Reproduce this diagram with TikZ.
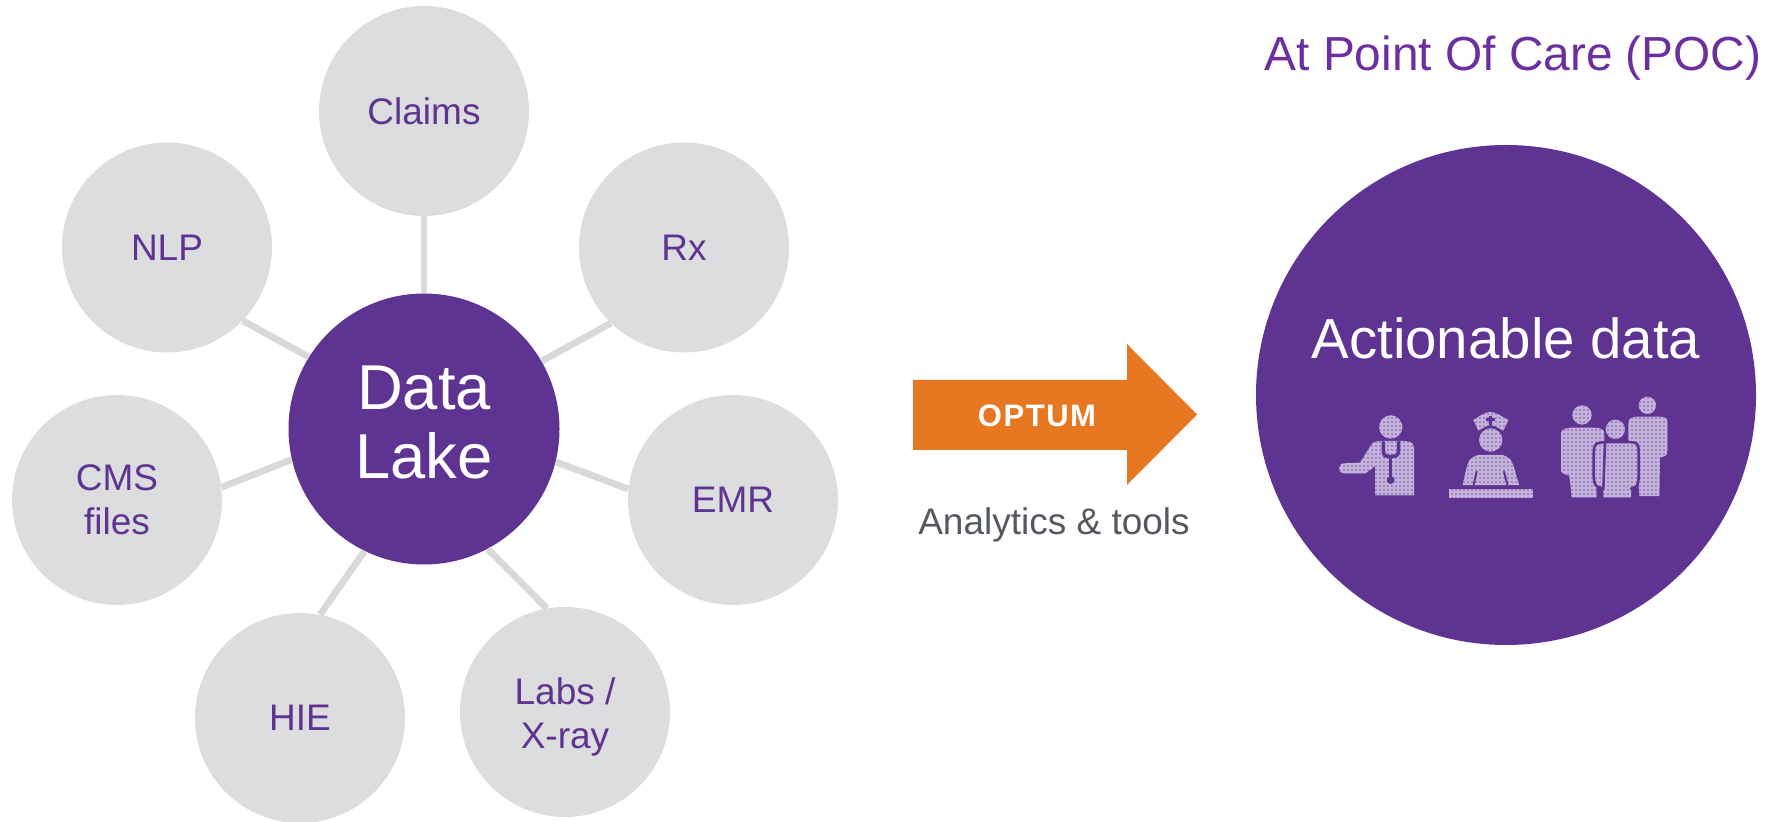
\documentclass[tikz,border=0pt]{standalone}
\usepackage{fontspec}
\setmainfont{Liberation Sans}
\usetikzlibrary{patterns.meta}
\definecolor{lakepurple}{HTML}{5E3391}
\definecolor{titlepurple}{HTML}{6B2FA0}
\definecolor{bubblegray}{HTML}{DCDDDF}
\definecolor{linkgray}{HTML}{D9D9D9}
\definecolor{arroworange}{HTML}{E87722}
\definecolor{captiongray}{HTML}{54585F}
\definecolor{iconlight}{HTML}{C4B4DC}
\tikzset{
  bubble/.style={circle,fill=bubblegray,draw=none,minimum size=105pt,inner sep=0pt,text=lakepurple,align=center,font=\fontsize{18.5}{22}\selectfont},
  hub/.style={circle,fill=lakepurple,draw=none,minimum size=135.5pt,inner sep=0pt,text=white,align=center,font=\fontsize{31.7}{34.5}\selectfont},
  bigdisc/.style={circle,fill=lakepurple,draw=none,minimum size=250pt,inner sep=0pt},
  link/.style={draw=linkgray,line width=3.4pt},
  icon/.style={fill=iconlight,postaction={pattern={Dots[distance=2pt,radius=0.42pt]},pattern color=lakepurple!75!iconlight}},
  cut/.style={draw=lakepurple,line width=1.3pt,fill=none,line cap=round,line join=round}
}
\newcommand{\twolines}[3]{\vbox{\kern#1\hbox{\begin{tabular}{@{}c@{}}#2\\[0pt]#3\end{tabular}}}}
\begin{document}
\begin{tikzpicture}[x=0.5pt,y=-0.5pt]
\useasboundingbox (0,0) rectangle (1782,822);
% nodes
\node[hub] (lake) at (424,429) {\twolines{1.7pt}{Data}{Lake}};
\node[bubble] (claims) at (424,111) {Claims};
\node[bubble] (rx) at (684,247.5) {Rx};
\node[bubble] (nlp) at (167,247.5) {NLP};
\node[bubble] (emr) at (733,500) {EMR};
\node[bubble] (cms) at (117,500) {\twolines{3.4pt}{CMS}{files}};
\node[bubble] (hie) at (300,718) {HIE};
\node[bubble] (labs) at (565,712) {\twolines{5.7pt}{Labs /}{X-ray}};
% connectors
\draw[link] (claims.south) -- (lake.north);
\draw[link] (nlp.316) -- (lake.148.9);
\draw[link] (rx.226) -- (lake.30);
\draw[link] (cms.7.7) -- (lake.193.6);
\draw[link] (emr.174.6) -- (lake.346.9);
\draw[link] (hie.79.6) -- (lake.244.6);
\draw[link] (labs.100.3) -- (lake.298.2);
% arrow
\fill[arroworange] (913,380) -- (1127,380) -- (1127,344) -- (1197,414.5) -- (1127,485) -- (1127,450) -- (913,450) -- cycle;
\node[text=white,inner sep=0pt,font=\fontsize{15.5}{18}\selectfont\bfseries\addfontfeature{LetterSpace=5}] (optum) at (1037,416) {OPTUM};
\node[text=captiongray,inner sep=0pt,anchor=base,font=\fontsize{18.5}{22}\selectfont] (caption) at (1054,535) {Analytics \& tools};
% right side
\node[text=titlepurple,inner sep=0pt,font=\fontsize{23.9}{28}\selectfont] (title) at (1513,58) {At Point Of Care (POC)};
\node[bigdisc] (disc) at (1506,395) {};
\node[text=white,inner sep=0pt,font=\fontsize{28.2}{32}\selectfont] (action) at (1506,338) {Actionable data};
% icons
\begin{scope}[shift={(1300,380)},x=0.16667pt,y=-0.16667pt]
  % doctor
  \fill[icon] (272,141) circle (35);
  \fill[icon] (132,250) -- (180,248) -- (212,197) .. controls (222,185) .. (245,183) -- (312,183) .. controls (342,187) .. (342,222) -- (342,346) -- (225,346) -- (225,258) -- (197,280) -- (132,280) .. controls (112,278) and (112,252) .. (132,250) -- cycle;
  \draw[cut,line width=1.8pt] (250,187) -- (250,212) .. controls (252,228) .. (272,230) .. controls (292,228) .. (296,212) -- (296,187);
  \draw[cut,line width=1.8pt] (272,230) -- (272,300);
  \fill[lakepurple] (272,300) circle (12);
  % nurse
  \fill[icon] (520,120) .. controls (570,88) .. (625,120) -- (610,152) .. controls (572,130) .. (535,152) -- cycle;
  \draw[cut,line width=1.5pt,line cap=butt] (570,107) -- (570,135) (557,120) -- (584,120);
  \fill[icon] (572,180) circle (35);
  \fill[icon] (535,225) -- (608,225) .. controls (635,235) .. (657,315) -- (488,315) .. controls (505,235) .. (535,225) -- cycle;
  \draw[cut,line width=1pt] (530,275) -- (521,314) (612,275) -- (622,314);
  \fill[icon] (447,327) rectangle (698,353);
  % family
  \fill[icon] (846,105) circle (29);
  \fill[icon] (812,143) -- (880,143) .. controls (913,145) .. (913,185) -- (885,240) -- (890,352) -- (815,352) -- (808,287) .. controls (783,280) .. (783,262) -- (783,172) .. controls (783,148) .. (812,143) -- cycle;
  \fill[icon] (1042,76) circle (26);
  \fill[icon] (1010,110) -- (1078,110) .. controls (1102,112) .. (1102,138) -- (1102,210) .. controls (1100,228) .. (1080,232) -- (1078,348) -- (1018,348) -- (1010,240) -- (985,200) -- (985,135) .. controls (987,114) .. (1010,110) -- cycle;
  \fill[icon] (946,148) circle (29);
  \fill[icon] (915,186) -- (985,186) .. controls (1015,188) .. (1016,220) -- (1016,290) .. controls (1014,318) .. (993,326) -- (993,352) -- (910,352) -- (910,326) .. controls (884,318) .. (881,290) -- (881,220) .. controls (883,190) .. (915,186) -- cycle;
  \draw[cut] (915,186) -- (985,186) .. controls (1015,188) .. (1016,220) -- (1016,290) .. controls (1014,318) .. (993,326) (910,326) .. controls (884,318) .. (881,290) -- (881,220) .. controls (883,190) .. (915,186) -- cycle;
\end{scope}
\end{tikzpicture}
\end{document}
